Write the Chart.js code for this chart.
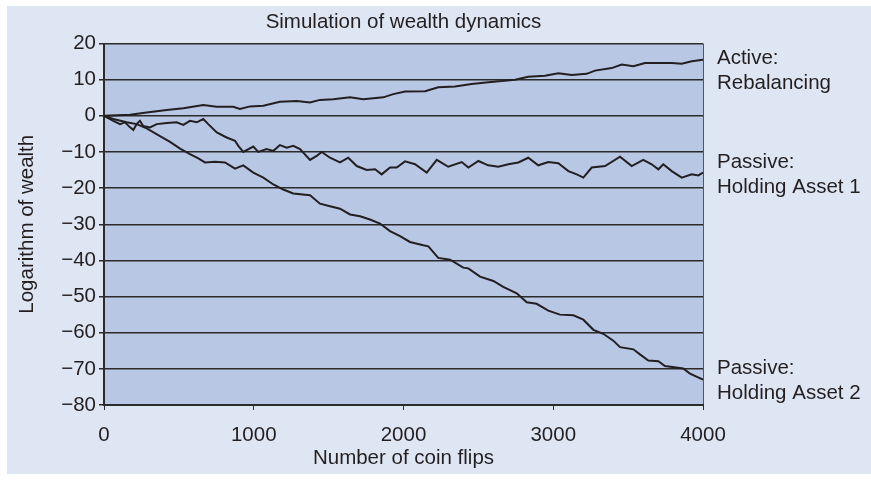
<!DOCTYPE html>
<html>
<head>
<meta charset="utf-8">
<script src="https://cdn.jsdelivr.net/npm/chart.js@4/dist/chart.umd.min.js"></script>
<style>
  html, body { margin: 0; padding: 0; background: #ffffff; }
  #c { display: block; }
</style>
</head>
<body>
<canvas id="c" width="871" height="481"></canvas>
<script>
// ---- Data ----
const chartTitle = 'Simulation of wealth dynamics';
const xAxisTitle = 'Number of coin flips';
const yAxisTitle = 'Logarithm of wealth';

const activeFlips = [0,174,285,419,530,663,753,863,908,975,1064,1175,1287,1376,1442,1531,1643,1732,1865,1932,2010,2144,2232,2344,2455,2566,2656,2745,2833,2945,3034,3123,3223,3279,3390,3457,3535,3613,3702,3791,3858,3925,4000];
const activeWealth = [0,0.3,0.9,1.6,2.1,3.0,2.5,2.5,1.9,2.6,2.8,3.9,4.1,3.7,4.4,4.6,5.1,4.6,5.1,6.0,6.7,6.8,7.9,8.1,8.8,9.3,9.6,10.0,10.8,11.1,11.8,11.3,11.6,12.5,13.2,14.2,13.7,14.6,14.6,14.6,14.4,15.1,15.5];

const asset1Flips = [0,62,107,140,174,196,218,240,262,307,352,419,485,530,574,619,663,696,753,819,875,897,930,997,1030,1086,1131,1175,1220,1264,1309,1376,1420,1454,1509,1576,1631,1688,1754,1810,1854,1910,1955,2010,2077,2155,2222,2299,2389,2433,2500,2566,2633,2700,2767,2833,2900,2967,3034,3101,3157,3201,3257,3346,3446,3524,3601,3657,3702,3735,3791,3858,3925,3969,4000];
const asset1Wealth = [0,-1.4,-2.3,-1.8,-3.2,-3.9,-2.3,-1.4,-2.8,-3.2,-2.3,-2.0,-1.8,-2.5,-1.4,-1.8,-0.9,-2.3,-4.6,-6.0,-6.9,-8.3,-10.0,-8.5,-10.0,-9.2,-9.7,-8.1,-8.8,-8.3,-9.2,-12.2,-11.1,-10.0,-11.6,-12.9,-11.6,-13.9,-15.0,-14.8,-16.2,-14.3,-14.3,-12.6,-13.4,-15.7,-12.2,-14.1,-12.8,-14.3,-12.5,-13.7,-14.1,-13.4,-12.9,-11.6,-13.7,-12.8,-13.1,-15.3,-16.2,-17.1,-14.3,-13.9,-11.3,-13.9,-12.2,-13.4,-14.8,-13.4,-15.3,-17.1,-16.2,-16.5,-15.7];

const asset2Flips = [0,62,152,218,285,374,441,508,574,630,674,741,808,875,930,997,1064,1131,1197,1264,1376,1442,1509,1576,1643,1710,1776,1843,1910,1977,2043,2132,2166,2232,2311,2399,2433,2511,2600,2666,2756,2823,2889,2967,3045,3134,3201,3268,3334,3401,3446,3535,3579,3635,3702,3746,3868,3913,4000];
const asset2Wealth = [0,-0.9,-1.8,-2.3,-3.5,-5.6,-7.2,-9.1,-10.6,-11.8,-12.9,-12.7,-12.9,-14.6,-13.7,-15.7,-17.1,-19.0,-20.4,-21.5,-22.0,-24.3,-25.0,-25.7,-27.3,-27.8,-28.7,-29.8,-31.9,-33.3,-34.9,-35.8,-36.1,-39.3,-39.8,-42.0,-42.2,-44.5,-45.7,-47.3,-49.1,-51.6,-52.0,-53.9,-55.0,-55.2,-56.4,-59.2,-60.3,-62.2,-64.0,-64.6,-66.0,-67.7,-67.9,-69.2,-69.9,-71.3,-73.0];

const seriesLabels = [['Active:', 'Rebalancing'], ['Passive:', 'Holding Asset 1'], ['Passive:', 'Holding Asset 2']];
const labelAnchors = [12.5, -16.3, -73.4]; // y-values where the right-hand labels sit

const xTickMin = 0, xTickMax = 4000, xTickStep = 1000;
const yTickMin = -80, yTickMax = 20, yTickStep = 10;

// ---- Styling ----
const FONT = '"Liberation Sans", Arial, Helvetica, sans-serif';
const FS = 20.5;
const INK = '#231f20';
const OUTER_BG = '#dfe6f3';
const PLOT_BG = '#b8c7e4';
const GRID = '#2b2b2b';

function toPoints(xs, ys) { return xs.map((x, i) => ({ x: x, y: ys[i] })); }

const bgPlugin = {
  id: 'bgPlugin',
  beforeDraw(chart) {
    const { ctx, chartArea: a } = chart;
    ctx.save();
    ctx.fillStyle = OUTER_BG;
    ctx.fillRect(7, 6, chart.width - 7, 468);
    ctx.fillStyle = PLOT_BG;
    ctx.fillRect(a.left, a.top, a.right - a.left, a.bottom - a.top);
    ctx.restore();
  }
};

const rightLabels = {
  id: 'rightLabels',
  afterDraw(chart) {
    const { ctx, chartArea: a } = chart;
    const ys = chart.scales.y;
    ctx.save();
    ctx.fillStyle = INK;
    ctx.font = FS + 'px ' + FONT;
    ctx.textAlign = 'left';
    ctx.textBaseline = 'middle';
    seriesLabels.forEach((lines, i) => {
      const cy = ys.getPixelForValue(labelAnchors[i]);
      ctx.fillText(lines[0], a.right + 14, cy - 12.5);
      ctx.fillText(lines[1], a.right + 14, cy + 12.5);
    });
    ctx.restore();
  }
};

const lineStyle = { borderColor: INK, borderWidth: 2, pointRadius: 0, tension: 0, fill: false };

new Chart(document.getElementById('c'), {
  type: 'line',
  data: {
    datasets: [
      Object.assign({ label: 'Active: Rebalancing', data: toPoints(activeFlips, activeWealth) }, lineStyle),
      Object.assign({ label: 'Passive: Holding Asset 1', data: toPoints(asset1Flips, asset1Wealth) }, lineStyle),
      Object.assign({ label: 'Passive: Holding Asset 2', data: toPoints(asset2Flips, asset2Wealth) }, lineStyle)
    ]
  },
  options: {
    responsive: false,
    animation: false,
    devicePixelRatio: 1,
    layout: { padding: { top: 6, right: 168, left: 0, bottom: 0 } },
    plugins: {
      legend: { display: false },
      tooltip: { enabled: false },
      title: {
        display: true,
        text: chartTitle,
        fullSize: false,
        color: INK,
        font: { family: FONT, size: FS, weight: 'normal' },
        padding: { top: 4.2, bottom: 8.7 }
      }
    },
    scales: {
      x: {
        type: 'linear',
        min: xTickMin, max: xTickMax,
        ticks: { stepSize: xTickStep, color: INK, font: { family: FONT, size: FS }, padding: 13, maxRotation: 0,
          callback: (v) => String(v) },
        grid: {
          drawOnChartArea: true,
          color: (c) => (c.tick && c.tick.value === xTickMax) ? '#555' : 'rgba(0,0,0,0)',
          tickColor: GRID,
          tickLength: 5,
          lineWidth: 1
        },
        border: { display: true, color: GRID, width: 2 },
        title: { display: true, text: xAxisTitle, color: INK, font: { family: FONT, size: FS }, padding: { top: 0, bottom: 10.7 } },
        afterFit: (s) => { s.height = 76; }
      },
      y: {
        type: 'linear',
        min: yTickMin, max: yTickMax,
        ticks: {
          stepSize: yTickStep, color: INK, font: { family: FONT, size: FS }, padding: 3,
          callback: (v) => String(v).replace('-', '\u2212')
        },
        grid: { color: GRID, tickColor: GRID, lineWidth: 1.5, tickLength: 5 },
        border: { display: true, color: GRID, width: 2 },
        title: { display: true, text: yAxisTitle, color: INK, font: { family: FONT, size: FS }, padding: { top: 15.2, bottom: 0 } },
        afterFit: (s) => { s.width = 104; }
      }
    }
  },
  plugins: [bgPlugin, rightLabels]
});
</script>
</body>
</html>
